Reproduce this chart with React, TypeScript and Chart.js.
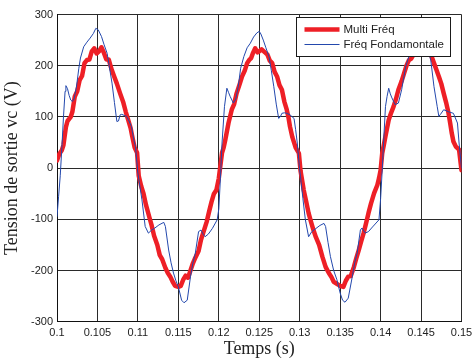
import React, { useEffect, useRef } from "react";
import { Chart, registerables } from "chart.js";

Chart.register(...registerables);

// Multi Fréq (red, thick)
const redX = [
  0.1, 0.1003, 0.1006, 0.1008, 0.1011, 0.1013, 0.1017, 0.1019, 0.1022, 0.1025,
  0.1028, 0.1031, 0.1034, 0.1037, 0.104, 0.1043, 0.1046, 0.1049, 0.1052, 0.1055,
  0.1058, 0.1061, 0.1064, 0.1067, 0.107, 0.1074, 0.1078, 0.1082, 0.1085, 0.1088,
  0.1091, 0.1093, 0.1096, 0.1099, 0.1101, 0.1104, 0.1107, 0.111, 0.1114, 0.1117,
  0.112, 0.1124, 0.1127, 0.113, 0.1134, 0.1137, 0.114, 0.1143, 0.1146, 0.115,
  0.1153, 0.1156, 0.1159, 0.1162, 0.1165, 0.1168, 0.1171, 0.1175, 0.1178, 0.1181,
  0.1185, 0.1188, 0.1191, 0.1194, 0.1197, 0.12,
  0.1202, 0.1204, 0.1206, 0.1208, 0.1212, 0.1216, 0.1219, 0.1222, 0.1226, 0.1229,
  0.1232, 0.1235, 0.1238, 0.124, 0.1242, 0.1245, 0.1248, 0.125, 0.1253, 0.1257,
  0.126, 0.1263, 0.1266, 0.1269, 0.1272, 0.1275, 0.1278, 0.1281, 0.1284, 0.1286,
  0.1288, 0.1291, 0.1295, 0.1299, 0.1301, 0.1305, 0.1308, 0.1311, 0.1314, 0.1317,
  0.132, 0.1324, 0.1328, 0.1332, 0.1336, 0.1339, 0.1342, 0.1346, 0.135, 0.1354,
  0.1357, 0.136, 0.1363, 0.1367, 0.137, 0.1373, 0.1376, 0.1379, 0.1382, 0.1385,
  0.1388, 0.1392, 0.1396, 0.1398,
  0.14, 0.1402, 0.1404, 0.1406, 0.141, 0.1413, 0.1416, 0.1419, 0.1422, 0.1426,
  0.1429, 0.1432, 0.1435, 0.1438, 0.1442, 0.1445, 0.1448, 0.1451, 0.1455, 0.146,
  0.1466, 0.1469, 0.1472, 0.1475, 0.1478, 0.1481, 0.1484, 0.1486, 0.1488, 0.149,
  0.1493, 0.1497, 0.15,
];
const redY = [
  15, 28, 35, 45, 80, 92, 100, 110, 140, 150,
  172, 180, 205, 211, 212, 228, 234, 224, 228, 236,
  225, 212, 212, 195, 182, 165, 146, 128, 110, 94,
  78, 62, 40, 30, -15, -35, -50, -72, -95, -112,
  -132, -150, -170, -178, -195, -205, -212, -222, -230, -232,
  -230, -218, -210, -214, -200, -186, -175, -162, -140, -125,
  -105, -85, -66, -50, -43, -20,
  5, 30, 40, 55, 88, 114, 125, 146, 165, 180,
  190, 205, 212, 215, 224, 234, 226, 228, 232, 226,
  222, 210, 205, 188, 179, 162, 153, 130, 114, 100,
  81, 60, 40, 29, -5, -43, -65, -88, -105, -121,
  -135, -150, -173, -193, -205, -212, -222, -226, -230, -232,
  -220, -212, -211, -193, -176, -160, -143, -127, -108, -88,
  -70, -49, -33, -20,
  -4, 29, 45, 62, 94, 108, 120, 135, 153, 170,
  185, 200, 211, 214, 226, 233, 225, 229, 234, 231,
  205, 192, 179, 165, 146, 128, 107, 88, 68, 52,
  42, 36, -4,
];

// Fréq Fondamontale (blue, thin)
const blueX = [
  0.1, 0.1002, 0.1004, 0.1006, 0.1008, 0.101, 0.1011, 0.1013, 0.1015, 0.1017,
  0.1019, 0.1021, 0.1024, 0.1027, 0.1029, 0.1033, 0.1037, 0.1041, 0.1045, 0.1048,
  0.1051, 0.1055, 0.1058, 0.1062, 0.1065, 0.1068, 0.1071, 0.1074, 0.1076, 0.1078,
  0.108, 0.1083, 0.1086, 0.1089, 0.1092, 0.1095, 0.1097, 0.11, 0.1105, 0.1109,
  0.1113, 0.1117, 0.1121, 0.1126, 0.1132, 0.1134, 0.1138, 0.1141, 0.1144, 0.1147,
  0.115, 0.1154, 0.1157, 0.1161, 0.1165, 0.1168, 0.1171, 0.1175, 0.1178, 0.1181,
  0.1183, 0.1187, 0.1192, 0.1198,
  0.12, 0.1202, 0.1204, 0.1207, 0.121, 0.1212, 0.1214, 0.1218, 0.1221, 0.1224,
  0.1227, 0.1231, 0.1235, 0.1239, 0.1243, 0.1247, 0.125, 0.1252, 0.1255, 0.1258,
  0.1262, 0.1265, 0.1268, 0.1271, 0.1274, 0.1276, 0.1278, 0.1281, 0.1284, 0.1288,
  0.1293, 0.1295, 0.1297, 0.13, 0.1301, 0.1304, 0.1307, 0.1311, 0.1315, 0.132,
  0.1325, 0.133, 0.1332, 0.1335, 0.1338, 0.1342, 0.1346, 0.135, 0.1353, 0.1356,
  0.136, 0.1365, 0.1368, 0.1371, 0.1375, 0.1377, 0.1381, 0.1385, 0.139, 0.1398,
  0.14, 0.1402, 0.1404, 0.1406, 0.1408, 0.141, 0.1412, 0.1414, 0.1418, 0.1422,
  0.1426, 0.1431, 0.1435, 0.1439, 0.1443, 0.1447, 0.145, 0.1454, 0.1458, 0.1462,
  0.1466, 0.147, 0.1472, 0.1474, 0.1478, 0.1484, 0.149, 0.1495, 0.1497, 0.15,
];
const blueY = [
  -95, -55, -15, 40, 100, 150, 161, 155, 142, 133,
  130, 135, 158, 195, 215, 237, 246, 254, 263, 273,
  270, 257, 242, 224, 195, 166, 128, 91, 92, 104,
  105, 103, 101, 92, 81, 55, 42, -10, -62, -114,
  -127, -121, -117, -111, -106, -114, -160, -185, -205, -220,
  -232, -258, -263, -258, -212, -185, -166, -124, -121, -130,
  -134, -129, -118, -101,
  -80, -20, 49, 120, 156, 148, 140, 127, 135, 159,
  195, 218, 235, 244, 256, 264, 267, 262, 250, 236,
  218, 190, 159, 125, 97, 100, 107, 108, 107, 104,
  97, 75, 49, -4, -17, -60, -101, -134, -124, -118,
  -112, -108, -114, -145, -173, -200, -218, -244, -258, -262,
  -254, -212, -185, -166, -121, -117, -127, -124, -115, -101,
  -60, -4, 60, 120, 140, 156, 145, 137, 124, 127,
  153, 198, 218, 240, 252, 265, 268, 255, 235, 211,
  159, 120, 101, 105, 114, 110, 107, 88, 49, 0,
];

const xTickValues = [0.1, 0.105, 0.11, 0.115, 0.12, 0.125, 0.13, 0.135, 0.14, 0.145, 0.15];
const yTickValues = [-300, -200, -100, 0, 100, 200, 300];

const seriesNames = ["Multi Fréq", "Fréq Fondamontale"];
const seriesColors = ["#ee1f26", "#2348ad"];
const seriesWidths = [4.5, 1];

const xTitle = "Temps (s)";
const yTitle = "Tension de sortie vc (V)";

const boxLegend = {
  id: "boxLegend",
  afterDatasetsDraw(chart: any) {
    const ctx = chart.ctx;
    const { right, top } = chart.chartArea;
    const x0 = Math.round(right - 166) + 0.5;
    const y0 = Math.round(top + 2) + 0.5;
    const w = 154;
    const h = 39;
    ctx.save();
    ctx.fillStyle = "#ffffff";
    ctx.fillRect(x0, y0, w, h);
    ctx.strokeStyle = "#1a1a1a";
    ctx.lineWidth = 1;
    ctx.strokeRect(x0, y0, w, h);
    ctx.font = "11.5px 'Liberation Sans', Arial, sans-serif";
    ctx.textBaseline = "middle";
    ctx.textAlign = "left";
    seriesNames.forEach((name, i) => {
      const yy = y0 + 12 + i * 15;
      ctx.beginPath();
      ctx.strokeStyle = seriesColors[i];
      ctx.lineWidth = seriesWidths[i];
      ctx.moveTo(x0 + 8, yy);
      ctx.lineTo(x0 + 43, yy);
      ctx.stroke();
      ctx.fillStyle = "#222222";
      ctx.fillText(name, x0 + 47, yy + 0.5);
    });
    ctx.restore();
  },
};

export default function App() {
  const canvasRef = useRef<HTMLCanvasElement | null>(null);

  useEffect(() => {
    const canvas = canvasRef.current;
    if (!canvas) return;
    const chart = new Chart(canvas, {
      type: "line",
      data: {
        datasets: [
          {
            label: seriesNames[0],
            data: redX.map((x, i) => ({ x, y: redY[i] })),
            borderColor: seriesColors[0],
            borderWidth: seriesWidths[0],
            pointRadius: 0,
            tension: 0,
            fill: false,
            order: 2,
            borderJoinStyle: "round",
            borderCapStyle: "round",
          },
          {
            label: seriesNames[1],
            data: blueX.map((x, i) => ({ x, y: blueY[i] })),
            borderColor: seriesColors[1],
            borderWidth: seriesWidths[1],
            pointRadius: 0,
            tension: 0,
            fill: false,
            order: 1,
          },
        ],
      },
      options: {
        responsive: false,
        animation: false,
        maintainAspectRatio: false,
        layout: { padding: { left: 0, top: 14.5, right: 10.5, bottom: 0 } },
        plugins: {
          legend: { display: false },
          tooltip: { enabled: false },
        },
        scales: {
          x: {
            type: "linear",
            min: 0.1,
            max: 0.15,
            afterBuildTicks: (scale: any) => {
              scale.ticks = xTickValues.map((v) => ({ value: v }));
            },
            afterFit: (scale: any) => {
              scale.height = 39.3;
              scale.paddingLeft = 0;
              scale.paddingRight = 0;
            },
            ticks: {
              color: "#222222",
              font: { family: "'Liberation Sans', Arial, sans-serif", size: 11 },
              padding: 5,
              maxRotation: 0,
              autoSkip: false,
              callback: (v: any) => String(parseFloat(Number(v).toFixed(4))),
            },
            grid: { color: "#2a2a2a", lineWidth: 1, drawTicks: false },
            border: { display: true, color: "#111111", width: 1 },
            title: {
              display: true,
              text: xTitle,
              color: "#222222",
              font: { family: "'Liberation Serif', 'Times New Roman', serif", size: 18 },
              padding: { top: 0, bottom: 0.5 },
            },
          },
          y: {
            type: "linear",
            min: -300,
            max: 300,
            afterBuildTicks: (scale: any) => {
              scale.ticks = yTickValues.map((v) => ({ value: v }));
            },
            afterFit: (scale: any) => {
              scale.width = 57;
              scale.paddingTop = 0;
              scale.paddingBottom = 0;
            },
            ticks: {
              color: "#222222",
              font: { family: "'Liberation Sans', Arial, sans-serif", size: 11 },
              padding: 4,
              autoSkip: false,
            },
            grid: { color: "#2a2a2a", lineWidth: 1, drawTicks: false },
            border: { display: true, color: "#111111", width: 1 },
            title: {
              display: true,
              text: yTitle,
              color: "#222222",
              font: { family: "'Liberation Serif', 'Times New Roman', serif", size: 18 },
              padding: { top: 1.5, bottom: 0 },
            },
          },
        },
      },
      plugins: [boxLegend],
    });
    return () => chart.destroy();
  }, []);

  return (
    <div style={{ position: "fixed", left: 0, top: 0, width: 472, height: 361, background: "#fff" }}>
      <canvas ref={canvasRef} width={472} height={361} style={{ display: "block" }} />
    </div>
  );
}
